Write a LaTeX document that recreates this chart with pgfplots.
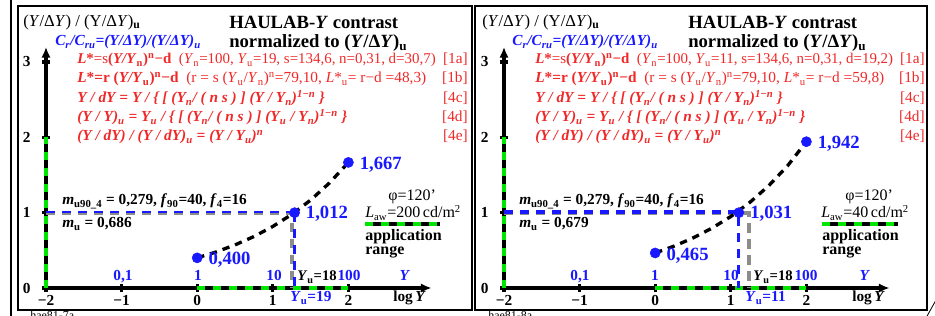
\documentclass[border=0pt]{standalone}
\usepackage{fontspec}
\setmainfont{Liberation Serif}
\usepackage{pgfplots}
\pgfplotsset{compat=1.18}
\usetikzlibrary{arrows.meta}
\definecolor{myblue}{RGB}{25,25,255}
\definecolor{myred}{RGB}{240,40,40}
\definecolor{mygreen}{RGB}{0,230,0}
\definecolor{mygrey}{RGB}{140,140,140}
\newcommand\fs[1]{\fontsize{#1}{#1}\selectfont}
\newcommand\sub[1]{\textsubscript{#1}}
\newcommand\sups[1]{\textsuperscript{#1}}
\pgfplotsset{
  panel/.style={
    x=56.7pt, y=56.5pt,
    xmin=-2, xmax=3.1, ymin=0, ymax=3.2,
    axis lines=left,
    axis line style={line width=2.3pt, -{Latex[length=8pt,width=7pt]}},
    xtick={-2,-1,0,1,2}, xticklabels={−2,−1,0,1,2},
    ytick={0,1,2,3}, yticklabels={0,1,2,3},
    tick style={black, line width=2.4pt},
    major tick length=6pt, tick align=center,
    ticklabel style={font=\fs{11.5}\bfseries},
    yticklabel style={xshift=-5pt},
    xticklabel style={yshift=1pt},
    clip=false, anchor=south west,
  },
  app/.style={line width=2.3pt, mygreen, dash pattern=on 6pt off 6pt},
  curve/.style={black, line width=2.5pt, dash pattern=on 5.5pt off 4.5pt},
  dots/.style={only marks, mark=*, mark size=3.8pt, myblue},
}
\begin{document}
\begin{tikzpicture}[x=0.75pt, y=0.75pt]
\useasboundingbox (0,0) rectangle (935,-316);
% frames
\draw[line width=1.8pt] (11,2) -- (11,-318);
\draw[line width=1.6pt] (18,-6) rectangle (472,-310);
\draw[line width=1.6pt] (475,-6) rectangle (927,-310);
\draw[line width=0.6pt] (926,-318) -- (936,-300);
\node[anchor=north west, inner sep=0, font=\fs{9}] at (30,-311) {hae81-7a};
\node[anchor=north west, inner sep=0, font=\fs{9}] at (488,-311) {hae81-8a};

% ================= LEFT PANEL =================
\begin{axis}[panel, at={(34.5pt,-216pt)}]
  \addplot[app] coordinates {(-2,0) (-2,2)};
  \addplot[app] coordinates {(0,0) (2,0)};
  \addplot[mygrey, line width=3pt, dash pattern=on 7pt off 5pt] coordinates {(-2,1) (1.256,1) (1.256,0)};
  \addplot[myblue, line width=2pt, dash pattern=on 7pt off 5pt] coordinates {(-2,1.01) (1.288,1.01)};
  \addplot[myblue, line width=2.4pt, dash pattern=on 7pt off 5pt] coordinates {(1.288,1) (1.288,0)};
  \addplot[curve] coordinates {(0,0.400) (0.25,0.478) (0.5,0.572) (0.75,0.683) (1.0,0.817) (1.25,0.976) (1.5,1.167) (1.75,1.395) (2.0,1.667)};
  \addplot[dots] coordinates {(0,0.400) (1.288,1.0) (2,1.667)};
  \node[anchor=west, myblue, font=\fs{14}\bfseries, xshift=5pt] at (axis cs:2,1.64) {1,667};
  \node[anchor=west, myblue, font=\fs{14}\bfseries, xshift=5pt] at (axis cs:1.288,0.98) {1,012};
  \node[anchor=west, myblue, font=\fs{14}\bfseries, xshift=5pt] at (axis cs:0,0.38) {0,400};
\end{axis}
\node[anchor=west, inner sep=0, font=\fs{12.5}] at (23,-22) {(\textit{Y}/Δ\textit{Y}) / (Y/Δ\textit{Y})\sub{\textbf{u}}};
\node[anchor=west, inner sep=0, font=\fs{14}\bfseries] at (229,-22) {HAULAB-\textit{Y} contrast};
\node[anchor=west, inner sep=0, font=\fs{14}\bfseries] at (229,-43) {normalized to (\textit{Y}/Δ\textit{Y})\sub{u}};
\node[anchor=west, inner sep=0, font=\fs{11.5}\bfseries\itshape, text=myblue] at (55,-42) {C\sub{r}/C\sub{ru}=(Y/ΔY)/(Y/ΔY)\sub{u}};
\begin{scope}[every node/.style={inner sep=0, font=\fs{11.5}, text=myred}]
\node[anchor=base west, font=\fs{11.2}] at (77,-64) {\textbf{\textit{L}*}=s\textbf{(\textit{Y/Y}\sub{n})\sups{n}−d}\enspace (\textit{Y}\sub{n}=100, \textit{Y}\sub{u}=19, s=134,6, n=0,31, d=30,7)};
\node[anchor=base west] at (77,-83) {\textbf{\textit{L}*=r (\textit{Y/Y}\sub{u})\sups{n}−d}\enspace (r = s (\textit{Y}\sub{u}/\textit{Y}\sub{n})\sups{n}=79,10, \textit{L}*\sub{u}= r−d =48,3)};
\node[anchor=base west] at (77,-103) {\textbf{\textit{Y / dY = Y / \{ [ (Y\sub{n}/ ( n s ) ] (Y / Y\sub{n})\sups{1−n} \}}}};
\node[anchor=base west] at (77,-122) {\textbf{\textit{(Y / Y)\sub{u} = Y\sub{u} / \{ [ (Y\sub{n}/ ( n s ) ] (Y\sub{u} / Y\sub{n})\sups{1−n} \}}}};
\node[anchor=base west] at (77,-141) {\textbf{\textit{(Y / dY) / (Y / dY)\sub{u} = (Y / Y\sub{u})\sups{n}}}};
\node[anchor=base east] at (468,-64) {[1a]};
\node[anchor=base east] at (468,-83) {[1b]};
\node[anchor=base east] at (468,-103) {[4c]};
\node[anchor=base east] at (468,-122) {[4d]};
\node[anchor=base east] at (468,-141) {[4e]};
\end{scope}
\node[anchor=base west, inner sep=0, font=\fs{11.5}\bfseries] at (62,-205) {\textit{m}\sub{u90\_4} = 0,279, \textit{f}\sub{90}=40, \textit{f}\sub{4}=16};
\node[anchor=base west, inner sep=0, font=\fs{11.5}\bfseries] at (62,-228) {\textit{m}\sub{u} = 0,686};
\node[anchor=base west, inner sep=0, font=\fs{12}] at (388,-201) {φ=120’};
\node[anchor=base west, inner sep=0, font=\fs{12}] at (365,-218) {\textit{L}\sub{aw}=200\,cd/m\sups{2}};
\draw[black, line width=3.5pt] (365,-224) -- (440,-224);
\draw[mygreen, line width=3.5pt, dash pattern=on 6pt off 6pt] (365,-224) -- (440,-224);
\node[anchor=base west, inner sep=0, font=\fs{12}\bfseries] at (365,-241) {application};
\node[anchor=base west, inner sep=0, font=\fs{12}\bfseries] at (365,-255) {range};
\begin{scope}[every node/.style={inner sep=0, font=\fs{11.5}\bfseries, text=myblue, anchor=base}]
\node at (123,-281) {0,1};
\node at (198,-281) {1};
\node at (274,-281) {10};
\node at (349,-281) {100};
\node at (405,-281) {\textit{Y}};
\node[anchor=base west] at (290,-302) {\textit{Y}\sub{u}=19};
\end{scope}
\node[anchor=base west, inner sep=0, font=\fs{11}\bfseries] at (297,-281) {\textit{Y}\sub{u}=18};
\node[anchor=base west, inner sep=0, font=\fs{11.5}\bfseries] at (393,-302) {log\,\textit{Y}};

% ================= RIGHT PANEL =================
\begin{axis}[panel, at={(378pt,-216pt)}]
  \addplot[app] coordinates {(-2,0) (-2,2)};
  \addplot[app] coordinates {(0,0) (2,0)};
  \addplot[mygrey, line width=3pt, dash pattern=on 7pt off 5pt] coordinates {(-2,1) (1.245,1) (1.245,0)};
  \addplot[myblue, line width=2.4pt, dash pattern=on 7pt off 5pt] coordinates {(-2,1.01) (1.107,1.01) (1.107,0)};
  \addplot[curve] coordinates {(0,0.465) (0.25,0.556) (0.5,0.664) (0.75,0.794) (1.0,0.949) (1.25,1.135) (1.5,1.356) (1.75,1.621) (2.0,1.942)};
  \addplot[dots] coordinates {(0,0.465) (1.107,1.0) (2,1.942)};
  \node[anchor=west, myblue, font=\fs{14}\bfseries, xshift=5pt] at (axis cs:2,1.92) {1,942};
  \node[anchor=west, myblue, font=\fs{14}\bfseries, xshift=5pt] at (axis cs:1.107,0.98) {1,031};
  \node[anchor=west, myblue, font=\fs{14}\bfseries, xshift=5pt] at (axis cs:0,0.43) {0,465};
\end{axis}
\node[anchor=west, inner sep=0, font=\fs{12.5}] at (482,-22) {(\textit{Y}/Δ\textit{Y}) / (Y/Δ\textit{Y})\sub{\textbf{u}}};
\node[anchor=west, inner sep=0, font=\fs{14}\bfseries] at (688,-22) {HAULAB-\textit{Y} contrast};
\node[anchor=west, inner sep=0, font=\fs{14}\bfseries] at (688,-43) {normalized to (\textit{Y}/Δ\textit{Y})\sub{u}};
\node[anchor=west, inner sep=0, font=\fs{11.5}\bfseries\itshape, text=myblue] at (512,-42) {C\sub{r}/C\sub{ru}=(Y/ΔY)/(Y/ΔY)\sub{u}};
\begin{scope}[every node/.style={inner sep=0, font=\fs{11.5}, text=myred}]
\node[anchor=base west, font=\fs{11.2}] at (535,-64) {\textbf{\textit{L}*}=s\textbf{(\textit{Y/Y}\sub{n})\sups{n}−d}\enspace (\textit{Y}\sub{n}=100, \textit{Y}\sub{u}=11, s=134,6, n=0,31, d=19,2)};
\node[anchor=base west] at (535,-83) {\textbf{\textit{L}*=r (\textit{Y/Y}\sub{u})\sups{n}−d}\enspace (r = s (\textit{Y}\sub{u}/\textit{Y}\sub{n})\sups{n}=79,10, \textit{L}*\sub{u}= r−d =59,8)};
\node[anchor=base west] at (535,-103) {\textbf{\textit{Y / dY = Y / \{ [ (Y\sub{n}/ ( n s ) ] (Y / Y\sub{n})\sups{1−n} \}}}};
\node[anchor=base west] at (535,-122) {\textbf{\textit{(Y / Y)\sub{u} = Y\sub{u} / \{ [ (Y\sub{n}/ ( n s ) ] (Y\sub{u} / Y\sub{n})\sups{1−n} \}}}};
\node[anchor=base west] at (535,-141) {\textbf{\textit{(Y / dY) / (Y / dY)\sub{u} = (Y / Y\sub{u})\sups{n}}}};
\node[anchor=base east] at (925,-64) {[1a]};
\node[anchor=base east] at (925,-83) {[1b]};
\node[anchor=base east] at (925,-103) {[4c]};
\node[anchor=base east] at (925,-122) {[4d]};
\node[anchor=base east] at (925,-141) {[4e]};
\end{scope}
\node[anchor=base west, inner sep=0, font=\fs{11.5}\bfseries] at (519,-205) {\textit{m}\sub{u90\_4} = 0,279, \textit{f}\sub{90}=40, \textit{f}\sub{4}=16};
\node[anchor=base west, inner sep=0, font=\fs{11.5}\bfseries] at (519,-228) {\textit{m}\sub{u} = 0,679};
\node[anchor=base west, inner sep=0, font=\fs{12}] at (845,-201) {φ=120’};
\node[anchor=base west, inner sep=0, font=\fs{12}] at (821,-218) {\textit{L}\sub{aw}=40\,cd/m\sups{2}};
\draw[black, line width=3.5pt] (822,-224) -- (898,-224);
\draw[mygreen, line width=3.5pt, dash pattern=on 6pt off 6pt] (822,-224) -- (898,-224);
\node[anchor=base west, inner sep=0, font=\fs{12}\bfseries] at (822,-241) {application};
\node[anchor=base west, inner sep=0, font=\fs{12}\bfseries] at (822,-255) {range};
\begin{scope}[every node/.style={inner sep=0, font=\fs{11.5}\bfseries, text=myblue, anchor=base}]
\node at (580,-281) {0,1};
\node at (655,-281) {1};
\node at (731,-281) {10};
\node at (806,-281) {100};
\node at (865,-281) {\textit{Y}};
\node[anchor=base west] at (745,-302) {\textit{Y}\sub{u}=11};
\end{scope}
\node[anchor=base west, inner sep=0, font=\fs{11}\bfseries] at (753,-281) {\textit{Y}\sub{u}=18};
\node[anchor=base west, inner sep=0, font=\fs{11.5}\bfseries] at (852,-302) {log\,\textit{Y}};
\end{tikzpicture}
\end{document}
